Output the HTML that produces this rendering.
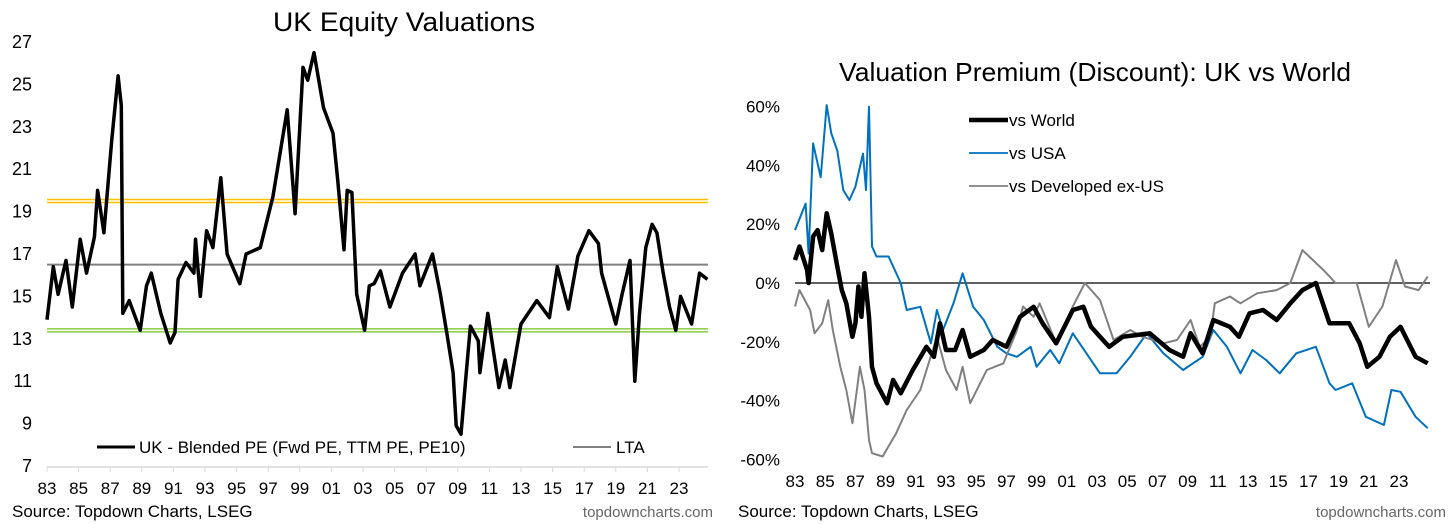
<!DOCTYPE html>
<html><head><meta charset="utf-8"><style>
html,body{margin:0;padding:0;background:#fff;}
svg{display:block;font-family:"Liberation Sans",Arial,sans-serif;}
</style></head><body>
<svg id="c" width="1456" height="524" viewBox="0 0 1456 524" xmlns="http://www.w3.org/2000/svg">
<text x="404" y="31" font-size="27" text-anchor="middle" textLength="262" lengthAdjust="spacingAndGlyphs">UK Equity Valuations</text>
<text x="1095" y="81" font-size="26" text-anchor="middle" textLength="512" lengthAdjust="spacingAndGlyphs">Valuation Premium (Discount): UK vs World</text>
<g id="L"></g>
<g id="R"></g>
<text x="12" y="517" font-size="17">Source: Topdown Charts, LSEG</text>
<text x="713" y="517" font-size="15" fill="#666" text-anchor="end">topdowncharts.com</text>
<text x="738" y="517" font-size="17">Source: Topdown Charts, LSEG</text>
<text x="1446" y="517" font-size="15" fill="#666" text-anchor="end">topdowncharts.com</text>
</svg>
<script>
const peYears=[1983.0,1983.4,1983.7,1984.2,1984.6,1985.1,1985.5,1986.0,1986.2,1986.6,1987.1,1987.5,1987.7,1987.8,1988.2,1988.9,1989.3,1989.6,1990.2,1990.8,1991.1,1991.3,1991.8,1992.3,1992.4,1992.7,1993.1,1993.5,1994.0,1994.4,1995.2,1995.6,1996.5,1997.3,1998.2,1998.7,1999.2,1999.5,1999.9,2000.5,2001.1,2001.4,2001.8,2002.0,2002.3,2002.6,2003.1,2003.4,2003.7,2004.1,2004.7,2005.5,2006.3,2006.6,2007.4,2007.9,2008.3,2008.7,2008.9,2009.2,2009.5,2009.8,2010.3,2010.4,2010.9,2011.6,2012.0,2012.3,2013.0,2014.0,2014.8,2015.3,2016.0,2016.6,2017.3,2017.9,2018.1,2019.0,2019.4,2019.9,2020.2,2020.5,2020.9,2021.3,2021.6,2022.0,2022.4,2022.8,2023.1,2023.8,2024.3,2024.8];
const peValues=[13.9,16.4,15.1,16.7,14.5,17.7,16.1,17.8,20.0,18.0,22.4,25.4,24.0,14.2,14.8,13.4,15.5,16.1,14.2,12.8,13.3,15.8,16.6,16.1,17.7,15.0,18.1,17.3,20.6,17.0,15.6,17.0,17.3,19.7,23.8,18.9,25.8,25.2,26.5,23.9,22.7,20.5,17.2,20.0,19.9,15.1,13.4,15.5,15.6,16.2,14.5,16.1,17.0,15.5,17.0,15.1,13.3,11.4,8.9,8.5,11.1,13.6,12.9,11.4,14.2,10.7,12.0,10.7,13.7,14.8,14.0,16.4,14.4,16.9,18.1,17.5,16.1,13.7,15.1,16.7,11.0,14.2,17.3,18.4,18.0,16.1,14.5,13.4,15.0,13.7,16.1,15.8];
const peRef={upper:19.5,lta:16.5,lower:13.4};
const peTicks=[7,9,11,13,15,17,19,21,23,25,27];
const yearLabels=["83","85","87","89","91","93","95","97","99","01","03","05","07","09","11","13","15","17","19","21","23"];

const worldYears=[1983.0,1983.3,1983.8,1983.9,1984.2,1984.5,1984.8,1985.1,1985.4,1985.8,1986.1,1986.4,1986.8,1987.0,1987.2,1987.4,1987.6,1987.9,1988.1,1988.4,1989.1,1989.5,1990.0,1990.8,1991.7,1992.2,1992.6,1993.0,1993.6,1994.1,1994.6,1995.5,1996.1,1997.0,1997.9,1998.8,1999.4,2000.3,2001.4,2002.1,2002.6,2003.8,2004.7,2006.5,2007.8,2008.7,2009.2,2010.0,2010.7,2011.8,2012.4,2013.1,2014.0,2014.9,2015.8,2016.6,2017.5,2018.4,2019.7,2020.4,2020.9,2021.7,2022.4,2023.1,2024.1,2024.9];
const worldValues=[7.8,12.4,4.4,0,15.8,18,11.2,23.7,16.9,5.6,-2.4,-6.9,-18.3,-13.7,-1.2,-11.5,3.3,-11.5,-28.5,-34.1,-40.9,-33,-37.5,-29.6,-21.7,-25.1,-13.7,-22.8,-22.8,-16.0,-25.1,-22.8,-19.4,-21.7,-11.5,-8.1,-13.7,-20.5,-9.2,-8.1,-14.9,-21.7,-18.3,-17.1,-22.8,-25.1,-17.1,-23.9,-12.6,-14.9,-18.3,-10.3,-9.2,-12.6,-6.9,-2.4,0,-13.7,-13.7,-20.5,-28.5,-25.1,-18.3,-14.9,-25.1,-27.3];
const usaYears=[1983.0,1983.7,1983.9,1984.2,1984.7,1985.1,1985.4,1985.8,1986.2,1986.6,1987.0,1987.5,1987.7,1987.9,1988.1,1988.4,1989.2,1990.0,1990.4,1991.3,1992.0,1992.4,1992.8,1993.5,1994.1,1994.8,1995.5,1996.4,1997.0,1997.7,1998.6,1999.0,1999.9,2000.5,2001.4,2002.3,2003.2,2004.3,2005.2,2006.3,2007.4,2008.7,2010.0,2010.7,2011.6,2012.5,2013.3,2014.2,2015.1,2016.2,2017.5,2018.4,2018.8,2019.9,2020.8,2022.0,2022.5,2023.1,2024.1,2024.9];
const usaValues=[18,27,10,47.5,36,60.5,51,45,31.6,28.2,32.8,44,31.6,60,12.4,9,9,0,-9.2,-8.1,-20.5,-9.2,-16,-6.9,3.3,-8.1,-12.6,-21.7,-23.9,-25.1,-21.7,-28.5,-22.8,-27.3,-17.1,-23.9,-30.7,-30.7,-25.1,-17.1,-23.9,-29.6,-25.1,-16,-21.7,-30.7,-22.8,-26.2,-30.7,-23.9,-21.7,-34.1,-36.4,-34.1,-45.5,-48.3,-36.4,-37,-45.5,-49.4];
const devYears=[1983.0,1983.3,1984.0,1984.3,1984.8,1985.2,1985.5,1986.0,1986.4,1986.8,1987.1,1987.3,1987.6,1987.9,1988.1,1988.8,1989.7,1990.4,1991.3,1992.4,1993.0,1993.7,1994.1,1994.6,1995.7,1996.8,1997.7,1998.1,1998.8,1999.2,2000.3,2001.4,2002.2,2003.2,2004.1,2005.2,2006.0,2007.4,2008.3,2009.2,2009.8,2010.5,2010.8,2011.8,2012.5,2013.6,2014.9,2015.8,2016.6,2018.0,2018.8,2020.2,2021.0,2021.9,2022.8,2023.4,2024.3,2024.9];
const devValues=[-8,-2.4,-9.2,-17.1,-13.7,-5.8,-16,-28.5,-36.4,-47.7,-36.4,-28.5,-36.4,-53.4,-57.9,-59,-51.1,-43.2,-36.4,-18.3,-29.6,-36.4,-28.5,-40.9,-29.6,-27.3,-16,-8,-11.5,-6.9,-20.5,-8,0,-5.8,-19.4,-16,-18.3,-20.5,-19.4,-12.6,-21.7,-18.3,-6.9,-4.6,-6.9,-3.5,-2.4,0,11.2,4.4,0,0,-14.9,-8,7.8,-1.2,-2.4,2.2];
const pctTicks=[60,40,20,0,-20,-40,-60];
const legendLabels=["vs World","vs USA","vs Developed ex-US"];

const NS="http://www.w3.org/2000/svg";
function mk(parent,tag,attrs){const e=document.createElementNS(NS,tag);for(const k in attrs)e.setAttribute(k,attrs[k]);parent.appendChild(e);return e;}
function path(xs,ys,fx,fy){return xs.map((x,i)=>(i?'L':'M')+fx(x).toFixed(1)+','+fy(ys[i]).toFixed(1)).join('');}

// Left chart
const L=document.getElementById('L');
const lx=y=>47+(y-1983)*15.8;
const ly=v=>466-(v-7)*21.2;
peTicks.forEach(t=>{
  const e=mk(L,'text',{x:32,y:ly(t)+6,'font-size':18,'text-anchor':'end'});e.textContent=t;
  
  
});
const ax=mk(L,'line',{x1:47,y1:467,x2:708,y2:467,stroke:'#d9d9d9','stroke-width':1.5});


yearLabels.forEach((s,i)=>{
  const x=lx(1983+2*i);
  const tk=mk(L,'line',{x1:x,y1:467,x2:x,y2:472,stroke:'#d9d9d9'});
  
  
  const e=mk(L,'text',{x:x,y:494,'font-size':17,'text-anchor':'middle'});e.textContent=s;
  
  
});
[[peRef.upper,'#FFC000','upper-band-line'],[peRef.lower,'#92D050','lower-band-line']].forEach(([v,c,n])=>{
  const g=mk(L,'g',{});
  
  
  mk(g,'line',{x1:47,y1:ly(v)-1.5,x2:708,y2:ly(v)-1.5,stroke:c,'stroke-width':1.6});
  mk(g,'line',{x1:47,y1:ly(v)+1.5,x2:708,y2:ly(v)+1.5,stroke:c,'stroke-width':1.6});
});
const lta=mk(L,'line',{x1:47,y1:ly(peRef.lta),x2:708,y2:ly(peRef.lta),stroke:'#808080','stroke-width':2});


const pe=mk(L,'path',{d:path(peYears,peValues,lx,ly),fill:'none',stroke:'#000','stroke-width':3.5,'stroke-linejoin':'round'});


const lg1=mk(L,'line',{x1:97,y1:447,x2:135,y2:447,stroke:'#000','stroke-width':3});


const lt1=mk(L,'text',{x:139,y:453,'font-size':17});lt1.textContent='UK - Blended PE (Fwd PE, TTM PE, PE10)';


const lg2=mk(L,'line',{x1:573,y1:447,x2:611,y2:447,stroke:'#808080','stroke-width':2});


const lt2=mk(L,'text',{x:616,y:453,'font-size':17});lt2.textContent='LTA';



// Right chart
const R=document.getElementById('R');
const rx=y=>795+(y-1983)*15.1;
const ry=v=>283-v*2.94;
pctTicks.forEach(t=>{
  const e=mk(R,'text',{x:780,y:ry(t)+6,'font-size':17,'text-anchor':'end'});e.textContent=t+'%';
  
  
});
yearLabels.forEach((s,i)=>{
  const e=mk(R,'text',{x:rx(1983+2*i),y:487,'font-size':17,'text-anchor':'middle'});e.textContent=s;
  
  
});
const zl=mk(R,'line',{x1:795,y1:ry(0),x2:1430,y2:ry(0),stroke:'#000','stroke-width':1.3});


const sUsa=mk(R,'path',{d:path(usaYears,usaValues,rx,ry),fill:'none',stroke:'#0070C0','stroke-width':2,'stroke-linejoin':'round'});


const sDev=mk(R,'path',{d:path(devYears,devValues,rx,ry),fill:'none',stroke:'#808080','stroke-width':2,'stroke-linejoin':'round'});


const sW=mk(R,'path',{d:path(worldYears,worldValues,rx,ry),fill:'none',stroke:'#000','stroke-width':4.5,'stroke-linejoin':'round'});


const lcol=['#000','#0070C0','#808080'],lw=[4.5,1.8,1.8];
legendLabels.forEach((s,i)=>{
  const y=120+i*33;
  const sw=mk(R,'line',{x1:969,y1:y,x2:1008,y2:y,stroke:lcol[i],'stroke-width':lw[i]});
  
  
  const t=mk(R,'text',{x:1009,y:y+6,'font-size':17});t.textContent=s;
  
  
});
</script>
</body></html>
